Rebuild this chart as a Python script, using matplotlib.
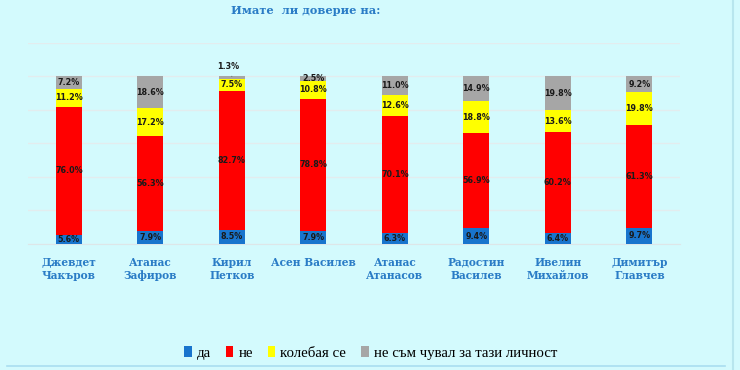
import matplotlib.pyplot as plt
from matplotlib.patches import Patch
from matplotlib.lines import Line2D
import numpy as np

categories = ["Джевдет\nЧакъров", "Атанас\nЗафиров", "Кирил\nПетков", "Асен Василев",
              "Атанас\nАтанасов", "Радостин\nВасилев", "Ивелин\nМихайлов", "Димитър\nГлавчев"]
series_names = ["да", "не", "колебая се", "не съм чувал за тази личност"]
da = [5.6, 7.9, 8.5, 7.9, 6.3, 9.4, 6.4, 9.7]
ne = [76.0, 56.3, 82.7, 78.8, 70.1, 56.9, 60.2, 61.3]
koleba = [11.2, 17.2, 7.5, 10.8, 12.6, 18.8, 13.6, 19.8]
ne_chuval = [7.2, 18.6, 1.3, 2.5, 11.0, 14.9, 19.8, 9.2]
title = "Имате  ли доверие на:"

colors = ["#1874cd", "#ff0000", "#ffff00", "#a6a6a6"]
bg = "#d3fafd"
blue_txt = "#2a7cc6"

fig = plt.figure(figsize=(7.4, 3.7), dpi=100, facecolor=bg)
ax = fig.add_axes([0.038, 0.3405, 0.881, 0.5435], facecolor=bg)

x = np.arange(len(categories))
bottom = np.zeros(len(categories))
for vals, c in zip([da, ne, koleba, ne_chuval], colors):
    vals = np.array(vals)
    ax.bar(x, vals, 0.32, bottom=bottom, color=c, zorder=3)
    for xi, b, v in zip(x, bottom, vals):
        if v < 2:
            ax.annotate(f"{v:.1f}%", xy=(xi, b + v), xytext=(xi - 0.05, b + v + 6),
                        ha="center", va="center", fontsize=5.8, fontweight="bold",
                        color="#1a1a1a", family="DejaVu Sans",
                        arrowprops=dict(arrowstyle="-", color="#555555", lw=0.6,
                                        shrinkA=2, shrinkB=0), zorder=5)
        else:
            ax.text(xi, b + v / 2, f"{v:.1f}%", ha="center", va="center",
                    fontsize=5.8, fontweight="bold", color="#1a1a1a",
                    family="DejaVu Sans", zorder=5)
    bottom += vals

ax.set_xlim(-0.5, len(categories) - 0.5)
ax.set_ylim(0, 120)
ax.set_yticks(np.arange(0, 121, 20))
ax.yaxis.grid(True, color="#e3ecee", lw=1, zorder=0)
ax.tick_params(axis="y", left=False, labelleft=False)
ax.tick_params(axis="x", length=0, pad=9)
ax.set_xticks(x)
ax.set_xticklabels(categories, fontsize=7.7, fontweight="bold", color=blue_txt,
                   family="DejaVu Serif", linespacing=1.3)
for s in ["top", "right", "left"]:
    ax.spines[s].set_visible(False)
ax.spines["bottom"].set_color("#dde6e8")

fig.text(0.413, 0.972, title, ha="center", va="center", fontsize=8.2,
         fontweight="bold", color=blue_txt, family="DejaVu Serif")

handles = [Patch(facecolor=c, edgecolor="none") for c in colors]
fig.legend(handles, series_names, loc="center", bbox_to_anchor=(0.501, 0.046),
           ncol=4, frameon=False, handlelength=0.5, handleheight=0.75,
           handletextpad=0.35, columnspacing=1.0,
           prop={"family": "Liberation Serif", "size": 10.7})

fig.add_artist(Line2D([0.01, 0.98], [0.011, 0.011], color="#a9def0", lw=1.2,
                      transform=fig.transFigure))
fig.add_artist(Line2D([0.99, 0.99], [0.0, 1.0], color="#b8e6ee", lw=1.5,
                      transform=fig.transFigure))

fig.savefig("out.png", dpi=100, facecolor=bg)
